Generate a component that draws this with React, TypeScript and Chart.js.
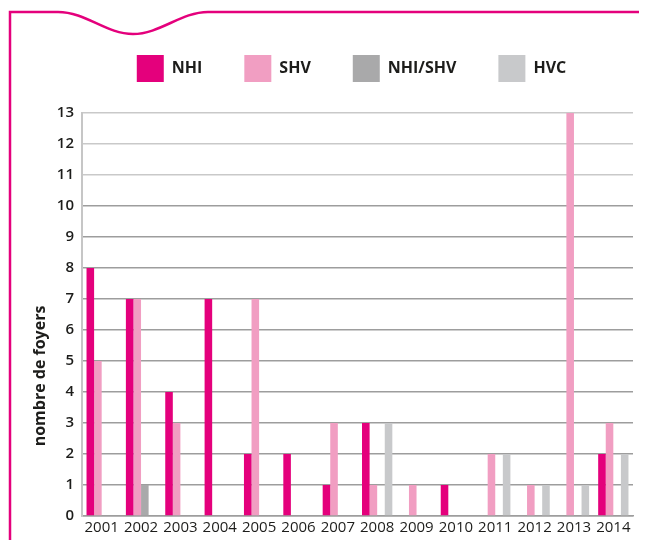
import { useEffect, useRef } from 'react';
import { Chart, registerables } from 'chart.js';

Chart.register(...registerables);

const categories = ['2001', '2002', '2003', '2004', '2005', '2006', '2007', '2008', '2009', '2010', '2011', '2012', '2013', '2014'];
const seriesNames = ['NHI', 'SHV', 'NHI/SHV', 'HVC'];
const nhiValues = [8, 7, 4, 7, 2, 2, 1, 3, 0, 1, 0, 0, 0, 2];
const shvValues = [5, 7, 3, 0, 7, 0, 3, 1, 1, 0, 2, 1, 13, 3];
const nhiShvValues = [0, 1, 0, 0, 0, 0, 0, 0, 0, 0, 0, 0, 0, 0];
const hvcValues = [0, 0, 0, 0, 0, 0, 0, 3, 0, 0, 2, 1, 1, 2];
const seriesColors = ['#e4007c', '#f19ec2', '#a9a9aa', '#c8c9cb'];
const yMin = 0;
const yMax = 13;
const yTitle = 'nombre de foyers';

const FONT = "'Open Sans', 'Noto Sans', sans-serif";
const TEXT = '#1d1d1b';

const framePlugin = {
  id: 'frame',
  afterDraw(chart: any) {
    const ctx = chart.ctx;
    ctx.save();
    ctx.strokeStyle = '#e4007c';
    ctx.lineWidth = 2.5;
    ctx.beginPath();
    ctx.moveTo(10, 560);
    ctx.lineTo(10, 12);
    ctx.lineTo(58, 12);
    ctx.bezierCurveTo(86, 12, 106, 34, 133, 34);
    ctx.bezierCurveTo(160, 34, 181, 12, 208, 12);
    ctx.lineTo(660, 12);
    ctx.stroke();
    ctx.restore();
  },
};

const yTitlePlugin = {
  id: 'yTitleCustom',
  afterDraw(chart: any) {
    const ctx = chart.ctx;
    ctx.save();
    ctx.translate(40, 376);
    ctx.rotate(-Math.PI / 2);
    ctx.font = `bold 16px ${FONT}`;
    ctx.fillStyle = TEXT;
    ctx.textAlign = 'center';
    ctx.textBaseline = 'middle';
    ctx.fillText(yTitle, 0, 0);
    ctx.restore();
  },
};

// shift the legend block up/left a little so it sits where the reference puts it
const legendShiftPlugin = {
  id: 'legendShift',
  afterLayout(chart: any) {
    const lg = chart.legend;
    if (!lg) return;
    lg.top -= 21;
    lg.bottom -= 21;
    lg.left -= 12;
  },
};

export default function App() {
  const canvasRef = useRef<HTMLCanvasElement | null>(null);

  useEffect(() => {
    if (!canvasRef.current) return;
    const values = [nhiValues, shvValues, nhiShvValues, hvcValues];
    const chart = new Chart(canvasRef.current, {
      type: 'bar',
      data: {
        labels: categories,
        datasets: seriesNames.map((name, i) => ({
          label: name,
          data: values[i],
          backgroundColor: seriesColors[i],
          borderWidth: 0,
          barPercentage: 1,
          categoryPercentage: 0.77,
        })),
      },
      options: {
        animation: false,
        responsive: false,
        maintainAspectRatio: false,
        layout: { padding: { left: 0, right: 14, top: 34, bottom: 0 } },
        plugins: {
          legend: {
            position: 'top',
            align: 'center',
            fullSize: false,
            labels: {
              boxWidth: 27,
              boxHeight: 27,
              padding: 42,
              color: TEXT,
              font: { family: FONT, size: 16, weight: 'bold' },
            },
          },
          tooltip: { enabled: false },
        },
        scales: {
          x: {
            grid: { display: false, drawTicks: false },
            border: { display: true, color: '#9d9d9d', width: 1.5 },
            ticks: {
              color: TEXT,
              padding: 3,
              font: { family: FONT, size: 15 },
              maxRotation: 0,
              autoSkip: false,
            },
            afterFit: (s: any) => {
              s.height = 32;
            },
          },
          y: {
            min: yMin,
            max: yMax,
            grid: {
              drawTicks: false,
              lineWidth: 1.5,
              color: (c: any) => (c.tick && c.tick.value >= 11 ? '#c9c9c9' : '#9d9d9d'),
            },
            border: { display: true, color: '#c6c6c6', width: 2 },
            ticks: {
              stepSize: 1,
              color: TEXT,
              padding: 8,
              font: { family: FONT, size: 15, weight: '600' },
            },
            afterFit: (s: any) => {
              s.width = 82;
            },
          },
        },
      },
      plugins: [framePlugin, yTitlePlugin, legendShiftPlugin],
    });
    return () => chart.destroy();
  }, []);

  return (
    <div style={{ margin: '-8px', width: 647, height: 548, overflow: 'hidden', background: '#fff' }}>
      <canvas ref={canvasRef} width={647} height={548} style={{ display: 'block', width: 647, height: 548 }} />
    </div>
  );
}
